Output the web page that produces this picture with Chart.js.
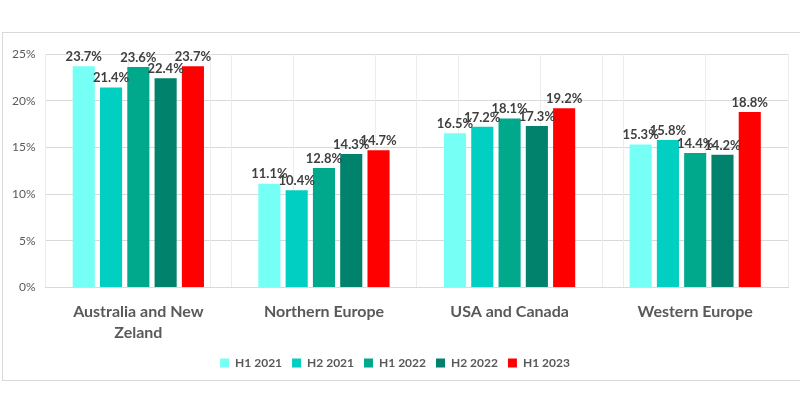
<!DOCTYPE html>
<html>
<head>
<meta charset="utf-8">
<script src="https://cdn.jsdelivr.net/npm/chart.js@4/dist/chart.umd.min.js"></script>
<style>
  body { margin: 0; background: #fff; }
  #wrap { position: relative; width: 800px; height: 400px; }
  #frame { position: absolute; left: 2px; top: 32px; width: 800px; height: 349px; border: 1px solid #d9d9d9; box-sizing: border-box; }
  canvas { position: absolute; left: 0; top: 0; }
</style>
</head>
<body>
<div id="wrap">
  <div id="frame"></div>
  <canvas id="grafico" width="800" height="400"></canvas>
</div>
<script>
const regioes = [["Australia and New", "Zeland"], "Northern Europe", "USA and Canada", "Western Europe"];
const periodos = ["H1 2021", "H2 2021", "H1 2022", "H2 2022", "H1 2023"];
const cores = ["#75FFF5", "#00CFC1", "#00A88C", "#00826C", "#FF0000"];

const h1_2021 = [23.7, 11.1, 16.5, 15.3];
const h2_2021 = [21.4, 10.4, 17.2, 15.8];
const h1_2022 = [23.6, 12.8, 18.1, 14.4];
const h2_2022 = [22.4, 14.3, 17.3, 14.2];
const h1_2023 = [23.7, 14.7, 19.2, 18.8];
const series = [h1_2021, h2_2021, h1_2022, h2_2022, h1_2023];

const yTicks = [0, 5, 10, 15, 20, 25];

// rotulos em cima das barras
const rotulos = {
  id: "rotulos",
  afterDatasetsDraw(chart) {
    const c = chart.ctx;
    c.save();
    c.font = "bold 13px Lato, 'Open Sans', sans-serif";
    c.fillStyle = "#404040";
    c.textAlign = "center";
    c.textBaseline = "bottom";
    chart.data.datasets.forEach((ds, i) => {
      chart.getDatasetMeta(i).data.forEach((bar, j) => {
        c.fillText(ds.data[j].toFixed(1) + "%", bar.x, bar.y - 3);
      });
    });
    c.restore();
  },
};

new Chart(document.getElementById("grafico"), {
  type: "bar",
  data: {
    labels: regioes,
    datasets: periodos.map((p, i) => ({
      label: p,
      data: series[i],
      backgroundColor: cores[i],
      barPercentage: 0.81,
      categoryPercentage: 0.735,
    })),
  },
  options: {
    responsive: false,
    animation: false,
    layout: { padding: { top: 54, left: 2, right: 12, bottom: 21 } },
    plugins: {
      legend: {
        position: "bottom",
        labels: {
          boxWidth: 9,
          boxHeight: 9,
          padding: 10,
          color: "#595959",
          font: { family: "Lato, 'Open Sans', sans-serif", size: 12, weight: "bold" },
        },
      },
      tooltip: { enabled: false },
    },
    scales: {
      y: {
        min: 0,
        max: 25,
        afterBuildTicks: (s) => { s.ticks = yTicks.map((v) => ({ value: v })); },
        ticks: {
          callback: (v) => v + "%",
          color: "#595959",
          padding: 10,
          font: { family: "Lato, 'Open Sans', sans-serif", size: 12 },
        },
        grid: { color: "#d9d9d9", drawTicks: false },
        border: { display: false },
      },
      x: {
        afterFit: (s) => { s.height -= 10; },
        ticks: {
          color: "#595959",
          padding: 14,
          font: { family: "Lato, 'Open Sans', sans-serif", size: 16, weight: "bold", lineHeight: 1.3 },
        },
        grid: { color: "#ececec", drawTicks: false },
        border: { color: "#d9d9d9" },
      },
      xMeio: {
        type: "linear",
        position: "bottom",
        min: 0,
        max: 8,
        ticks: { display: false, stepSize: 1 },
        grid: { color: "#ececec", drawTicks: false },
        border: { display: false },
      },
    },
  },
  plugins: [rotulos],
});
</script>
</body>
</html>
